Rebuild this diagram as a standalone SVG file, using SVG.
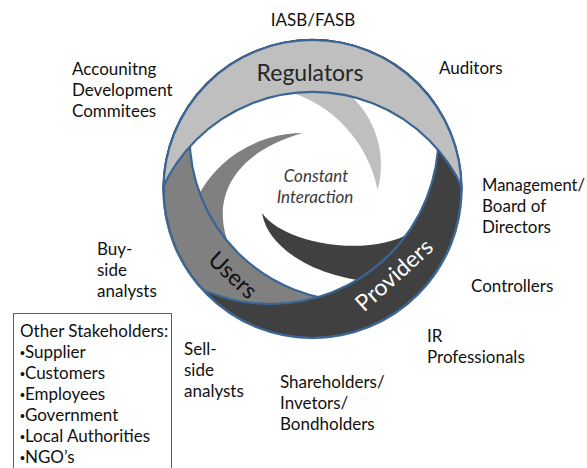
<svg xmlns="http://www.w3.org/2000/svg" width="587" height="468" viewBox="0 0 587 468">
  <style>
    .label { font-family: Lato, "Liberation Sans", sans-serif; font-size: 17px; fill: #111111; }
    .bullet { font-family: "Liberation Sans", sans-serif; font-size: 14px; }
    .band-label { font-family: Lato, "Liberation Sans", sans-serif; font-size: 23px; }
    .center-label { font-family: Lato, "Liberation Sans", sans-serif; font-size: 17px; font-style: italic; fill: #3a3a3a; }
    .band { stroke: #3A6595; stroke-width: 2.2; fill-rule: evenodd; }
    .swirl { stroke: none; }
  </style>
  <defs>
    <!-- outer disk of the ring; each band is clipped to it -->
    <clipPath id="disk">
      <circle cx="312.5" cy="189" r="150.2"/>
    </clipPath>
  </defs>

  <rect width="587" height="468" fill="#ffffff"/>

  <!-- inner swirls, each growing out of its band -->
  <g id="swirls">
    <path id="swirl-regulators" class="swirl" fill="#BFBFBF"
          d="M285,90.5 A129,129 0 0,1 377.6,190.2 A95,95 0 0,0 340,87 Z"/>
    <path id="swirl-users" class="swirl" fill="#808080"
          d="M232,252 C205,195 240,150 303,133 A119,119 0 0,0 193.7,205 Z"/>
    <path id="swirl-providers" class="swirl" fill="#404040"
          d="M262,213 C285,245 370,258 412,232 L380,282 C320,280 268,250 262,213 Z"/>
  </g>

  <!-- ring bands: outer disk minus an offset disk -->
  <g id="band-users">
    <path class="band" fill="#808080" clip-path="url(#disk)"
          d="M163.5,189 a149,149 0 1,0 298,0 a149,149 0 1,0 -298,0 Z
             M189.5,136 a165,165 0 1,0 330,0 a165,165 0 1,0 -330,0 Z"/>
    <text class="band-label" fill="#111111" text-anchor="middle" transform="translate(233,275) rotate(43)" y="8">Users</text>
  </g>
  <g id="band-providers">
    <path class="band" fill="#404040" clip-path="url(#disk)"
          d="M163.5,189 a149,149 0 1,0 298,0 a149,149 0 1,0 -298,0 Z
             M102.5,136 a168,168 0 1,0 336,0 a168,168 0 1,0 -336,0 Z"/>
    <text class="band-label" fill="#ffffff" text-anchor="middle" transform="translate(394,275) rotate(-42)" y="8">Providers</text>
  </g>
  <g id="band-regulators">
    <path class="band" fill="#BFBFBF" clip-path="url(#disk)"
          d="M163.5,189 a149,149 0 1,0 298,0 a149,149 0 1,0 -298,0 Z
             M147.5,257 a165,165 0 1,0 330,0 a165,165 0 1,0 -330,0 Z"/>
    <text class="band-label" fill="#262626" text-anchor="middle" x="310" y="81">Regulators</text>
  </g>

  <g id="center">
    <text class="center-label" text-anchor="middle" x="316" y="182">Constant</text>
    <text class="center-label" text-anchor="middle" x="315" y="203">Interaction</text>
  </g>

  <!-- stakeholder labels around the ring -->
  <g id="iasb">
    <text class="label" text-anchor="middle" x="313" y="26">IASB/FASB</text>
  </g>
  <g id="committees">
    <text class="label" x="72" y="75">Accounitng</text>
    <text class="label" x="72" y="96">Development</text>
    <text class="label" x="72" y="117">Commitees</text>
  </g>
  <g id="auditors">
    <text class="label" x="439" y="74">Auditors</text>
  </g>
  <g id="management">
    <text class="label" x="482" y="191" textLength="103" lengthAdjust="spacingAndGlyphs">Management/</text>
    <text class="label" x="482" y="212">Board of</text>
    <text class="label" x="482" y="233">Directors</text>
  </g>
  <g id="buy-side">
    <text class="label" x="97" y="255">Buy-</text>
    <text class="label" x="97" y="276">side</text>
    <text class="label" x="97" y="297">analysts</text>
  </g>
  <g id="controllers">
    <text class="label" x="471" y="292">Controllers</text>
  </g>
  <g id="ir">
    <text class="label" x="427" y="342">IR</text>
    <text class="label" x="427" y="363">Professionals</text>
  </g>
  <g id="sell-side">
    <text class="label" x="184" y="355">Sell-</text>
    <text class="label" x="184" y="376">side</text>
    <text class="label" x="184" y="397">analysts</text>
  </g>
  <g id="shareholders">
    <text class="label" x="280" y="388">Shareholders/</text>
    <text class="label" x="280" y="409">Invetors/</text>
    <text class="label" x="280" y="430">Bondholders</text>
  </g>

  <g id="other-stakeholders">
    <rect x="13.5" y="313.5" width="158" height="170" fill="none" stroke="#3A6595" stroke-width="1"/>
    <text class="label" x="20" y="337">Other Stakeholders:</text>
    <text class="label" x="20" y="358"><tspan class="bullet">•</tspan>Supplier</text>
    <text class="label" x="20" y="379"><tspan class="bullet">•</tspan>Customers</text>
    <text class="label" x="20" y="400"><tspan class="bullet">•</tspan>Employees</text>
    <text class="label" x="20" y="421"><tspan class="bullet">•</tspan>Government</text>
    <text class="label" x="20" y="442"><tspan class="bullet">•</tspan>Local Authorities</text>
    <text class="label" x="20" y="463"><tspan class="bullet">•</tspan>NGO’s</text>
  </g>
</svg>
